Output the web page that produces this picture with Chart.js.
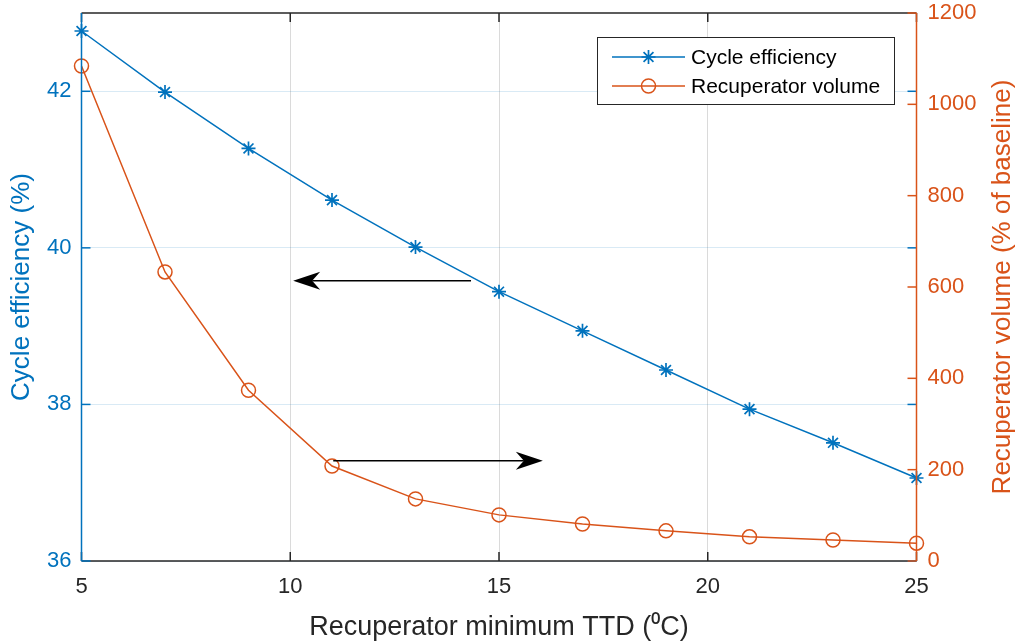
<!DOCTYPE html>
<html><head><meta charset="utf-8">
<script src="https://cdn.jsdelivr.net/npm/chart.js@4/dist/chart.umd.min.js"></script>
<style>html,body{margin:0;padding:0;background:#fff;} canvas{display:block;}</style>
</head><body>
<canvas id="c" width="1019" height="644"></canvas>
<script>
// ---- data ----
const ttd = [5, 7, 9, 11, 13, 15, 17, 19, 21, 23, 25];
const efficiency = [42.77, 41.99, 41.27, 40.61, 40.01, 39.44, 38.94, 38.44, 37.94, 37.51, 37.06];
const volume = [1084, 633, 374, 208, 136, 101, 81, 66, 53, 46, 39];
const xTicks = [5, 10, 15, 20, 25];
const effTicks = [36, 38, 40, 42];
const volTicks = [0, 200, 400, 600, 800, 1000, 1200];
// arrows in data units (x, left-axis y): [x0, y0, x1(tip), y1]
const arrowToEff = [14.33, 39.58, 10.07, 39.58];
const arrowToVol = [11.03, 37.28, 16.05, 37.28];
const rightTitle = 'Recuperator volume (% of baseline)';

const BLUE = '#0072BD', ORANGE = '#D95319', DARK = '#262626';
const FONT = "'Liberation Sans', Arial, Helvetica, sans-serif";
Chart.defaults.font.family = FONT;

const frame = {
  id: 'frame',
  afterDatasetsDraw(chart) {
    const {ctx, chartArea: {left, right, top, bottom}, scales: {x, y, y2}} = chart;
    const tl = 9;
    const seg = (a, b, c, d) => { ctx.beginPath(); ctx.moveTo(a, b); ctx.lineTo(c, d); ctx.stroke(); };
    ctx.save();
    ctx.lineWidth = 1.5;
    const drawArrow = (arr) => {
      const x0 = x.getPixelForValue(arr[0]), y0 = y.getPixelForValue(arr[1]);
      const x1 = x.getPixelForValue(arr[2]), y1 = y.getPixelForValue(arr[3]);
      const ang = Math.atan2(y1 - y0, x1 - x0);
      const L = 27, W = 9, N = 19;
      ctx.strokeStyle = '#000'; ctx.fillStyle = '#000'; ctx.lineWidth = 1.5;
      const bx = x1 - Math.cos(ang) * N, by = y1 - Math.sin(ang) * N;
      seg(x0, y0, bx, by);
      ctx.beginPath();
      ctx.moveTo(x1, y1);
      ctx.lineTo(x1 - Math.cos(ang) * L - Math.sin(ang) * W, y1 - Math.sin(ang) * L + Math.cos(ang) * W);
      ctx.lineTo(bx, by);
      ctx.lineTo(x1 - Math.cos(ang) * L + Math.sin(ang) * W, y1 - Math.sin(ang) * L - Math.cos(ang) * W);
      ctx.closePath(); ctx.fill();
    };
    drawArrow(arrowToEff);
    drawArrow(arrowToVol);
    ctx.lineWidth = 1.5;
    ctx.strokeStyle = DARK;
    seg(left, top, right, top);
    seg(left, bottom, right, bottom);
    x.ticks.forEach(t => {
      const px = x.getPixelForValue(t.value);
      seg(px, bottom, px, bottom - tl);
      seg(px, top, px, top + tl);
    });
    ctx.strokeStyle = BLUE;
    seg(left, top, left, bottom);
    y.ticks.forEach(t => {
      const py = y.getPixelForValue(t.value);
      seg(left, py, left + tl, py);
      seg(right, py, right - tl, py);
    });
    ctx.strokeStyle = ORANGE;
    seg(right, top, right, bottom);
    y2.ticks.forEach(t => {
      const py = y2.getPixelForValue(t.value);
      seg(right, py, right - tl, py);
    });
    ctx.restore();
  },
  afterDraw(chart) {
    const {ctx, chartArea: {top, bottom}} = chart;
    ctx.save();
    ctx.translate(1003, (top + bottom) / 2);
    ctx.rotate(-Math.PI / 2);
    ctx.font = '26px ' + FONT;
    ctx.fillStyle = ORANGE;
    ctx.textAlign = 'center';
    ctx.textBaseline = 'middle';
    ctx.fillText(rightTitle, 0, 0);
    ctx.restore();

    const bx = 597, by = 37, bw = 297, bh = 67;
    ctx.save();
    ctx.fillStyle = '#fff';
    ctx.fillRect(bx, by, bw, bh);
    ctx.strokeStyle = DARK; ctx.lineWidth = 1;
    ctx.strokeRect(bx + 0.5, by + 0.5, bw, bh);
    ctx.font = '21px ' + FONT;
    ctx.textBaseline = 'middle';
    chart.data.datasets.forEach((ds, i) => {
      const ry = by + 20 + i * 29;
      ctx.strokeStyle = ds.borderColor; ctx.lineWidth = 1.5;
      ctx.beginPath(); ctx.moveTo(612, ry); ctx.lineTo(685, ry); ctx.stroke();
      ctx.fillStyle = ds.pointBackgroundColor;
      ctx.strokeStyle = ds.pointBorderColor;
      ctx.lineWidth = ds.pointBorderWidth;
      Chart.helpers.drawPoint(ctx, {pointStyle: ds.pointStyle, radius: ds.pointRadius, borderWidth: ds.pointBorderWidth}, 648.5, ry);
      ctx.fillStyle = '#000';
      ctx.fillText(ds.label, 691, ry + 1);
    });
    ctx.restore();
  }
};

const plain = v => String(v);
const noPad = s => { s.paddingTop = 0; s.paddingBottom = 0; s.paddingLeft = 0; s.paddingRight = 0; };

new Chart(document.getElementById('c'), {
  type: 'line',
  data: {
    datasets: [
      {
        label: 'Cycle efficiency',
        data: ttd.map((t, i) => ({x: t, y: efficiency[i]})),
        yAxisID: 'y', borderColor: BLUE, backgroundColor: BLUE,
        borderWidth: 1.5, pointStyle: 'star', pointRadius: 7, pointBorderWidth: 1.7,
        pointBorderColor: BLUE, pointBackgroundColor: BLUE, tension: 0, clip: false
      },
      {
        label: 'Recuperator volume',
        data: ttd.map((t, i) => ({x: t, y: volume[i]})),
        yAxisID: 'y2', borderColor: ORANGE, backgroundColor: 'rgba(0,0,0,0)',
        borderWidth: 1.5, pointStyle: 'circle', pointRadius: 7, pointBorderWidth: 1.5,
        pointBorderColor: ORANGE, pointBackgroundColor: 'rgba(0,0,0,0)', tension: 0, clip: false
      }
    ]
  },
  options: {
    responsive: false, devicePixelRatio: 1, animation: false,
    layout: {padding: {top: 13, left: 0, right: 0, bottom: 0}},
    plugins: {legend: {display: false}, tooltip: {enabled: false}},
    scales: {
      x: {
        type: 'linear', position: 'bottom', min: 5, max: 25,
        afterBuildTicks: s => { s.ticks = xTicks.map(v => ({value: v})); },
        afterFit: s => { s.height = 83; noPad(s); },
        grid: {color: 'rgba(38,38,38,0.17)', lineWidth: 1, drawTicks: false},
        border: {display: false},
        ticks: {color: DARK, font: {size: 22}, padding: 13, maxRotation: 0, callback: plain},
        title: {display: true, text: 'Recuperator minimum TTD (\u2070C)', color: DARK, font: {size: 27}, padding: {top: 0, bottom: 0}}
      },
      y: {
        type: 'linear', position: 'left', min: 36, max: 43,
        afterBuildTicks: s => { s.ticks = effTicks.map(v => ({value: v})); },
        afterFit: s => { s.width = 81.5; noPad(s); },
        grid: {color: 'rgba(0,114,189,0.15)', lineWidth: 1, drawTicks: false},
        border: {display: false},
        ticks: {color: BLUE, font: {size: 22}, padding: 10, callback: plain},
        title: {display: true, text: 'Cycle efficiency (%)', color: BLUE, font: {size: 26}, padding: {top: 6, bottom: 0}}
      },
      y2: {
        type: 'linear', position: 'right', min: 0, max: 1200,
        afterBuildTicks: s => { s.ticks = volTicks.map(v => ({value: v})); },
        afterFit: s => { s.width = 102.5; noPad(s); },
        grid: {display: false, drawTicks: false},
        border: {display: false},
        ticks: {color: ORANGE, font: {size: 22}, padding: 11, callback: plain},
        title: {display: false}
      }
    }
  },
  plugins: [frame]
});
</script>
</body></html>
